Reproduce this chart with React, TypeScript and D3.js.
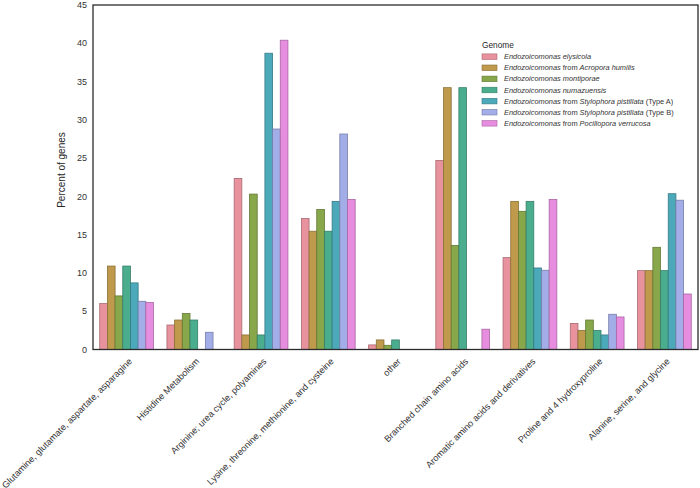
import React from "react";
import * as d3 from "d3";

const categories = [
  "Glutamine, glutamate, aspartate, asparagine",
  "Histidine Metabolism",
  "Arginine; urea cycle, polyamines",
  "Lysine, threonine, methionine, and cysteine",
  "other",
  "Branched chain amino acids",
  "Aromatic amino acids and derivatives",
  "Proline and 4 hydroxyproline",
  "Alanine, serine, and glycine",
];

const genomes = [
  "Endozoicomonas elysicola",
  "Endozoicomonas from Acropora humilis",
  "Endozoicomonas montiporae",
  "Endozoicomonas numazuensis",
  "Endozoicomonas from Stylophora pistillata (Type A)",
  "Endozoicomonas from Stylophora pistillata (Type B)",
  "Endozoicomonas from Pocillopora verrucosa",
];

const elysicola = [6.0, 3.2, 22.35, 17.1, 0.6, 24.7, 12.0, 3.4, 10.3];
const acroporaHumilis = [10.9, 3.85, 1.9, 15.45, 1.25, 34.2, 19.35, 2.5, 10.3];
const montiporae = [7.0, 4.7, 20.3, 18.3, 0.55, 13.6, 18.05, 3.85, 13.35];
const numazuensis = [10.9, 3.85, 1.9, 15.45, 1.25, 34.2, 19.35, 2.5, 10.3];
const stylophoraA = [8.7, 0, 38.7, 19.35, 0, 0, 10.65, 1.9, 20.35];
const stylophoraB = [6.3, 2.25, 28.8, 28.15, 0, 0, 10.35, 4.6, 19.5];
const pocillopora = [6.15, 0, 40.4, 19.6, 0, 2.65, 19.6, 4.25, 7.25];

const seriesValues = [
  elysicola,
  acroporaHumilis,
  montiporae,
  numazuensis,
  stylophoraA,
  stylophoraB,
  pocillopora,
];

const colors = [
  "#e8929e",
  "#c09a4c",
  "#88a74a",
  "#4aae8e",
  "#4ba9b9",
  "#a3aee9",
  "#e78de0",
];

const yTicks = [0, 5, 10, 15, 20, 25, 30, 35, 40, 45];

const W = 700;
const H = 488;
const left = 93;
const right = 698;
const top = 5;
const bottom = 349.5;
const font = "'Liberation Sans', Arial, Helvetica, sans-serif";

function legendParts(label: string) {
  const parts = label.split(/( from |\(Type [AB]\))/).filter((p) => p !== "");
  return parts.map((p) => ({
    text: p,
    italic: !(p === " from " || /^\(Type/.test(p)),
  }));
}

export default function App() {
  const x = d3
    .scaleBand<string>()
    .domain(categories)
    .range([left, right])
    .paddingInner(0.2)
    .paddingOuter(0.1);
  const xi = d3
    .scaleBand<number>()
    .domain(d3.range(genomes.length))
    .range([0, x.bandwidth()]);
  const y = d3.scaleLinear().domain([0, 45]).range([bottom, top]);

  const bars: React.ReactElement[] = [];
  seriesValues.forEach((vals, si) => {
    vals.forEach((v, ci) => {
      if (v <= 0) return;
      const bx = (x(categories[ci]) as number) + (xi(si) as number);
      const stroke = d3.color(colors[si])!.darker(0.9).formatHex();
      bars.push(
        <rect
          key={`${si}-${ci}`}
          x={bx}
          y={y(v)}
          width={xi.bandwidth()}
          height={y(0) - y(v)}
          fill={colors[si]}
          stroke={stroke}
          strokeWidth={0.8}
        />
      );
    });
  });

  const step = x.step();

  return (
    <svg
      width={W}
      height={H}
      style={{ position: "absolute", left: 0, top: 0, background: "#fff" }}
      fontFamily={font}
    >
      <rect x={0} y={0} width={W} height={H} fill="#fff" />
      {bars}
      <rect
        x={left}
        y={top}
        width={right - left}
        height={bottom - top}
        fill="none"
        stroke="#2b2b2b"
        strokeWidth={1.3}
      />
      {yTicks.map((t) => (
        <text
          key={t}
          x={87}
          y={y(t)}
          dy="0.35em"
          textAnchor="end"
          fontSize={9}
          fill="#333"
        >
          {t}
        </text>
      ))}
      <text
        transform={`translate(65,170) rotate(-90)`}
        textAnchor="middle"
        fontSize={10}
        fill="#262626"
      >
        Percent of genes
      </text>
      {categories.map((c) => {
        const cx = (x(c) as number) + x.bandwidth() / 2 + 6;
        return (
          <text
            key={c}
            transform={`translate(${cx},362) rotate(-45)`}
            textAnchor="end"
            fontSize={9.1}
            fill="#333"
          >
            {c}
          </text>
        );
      })}
      <g transform="translate(482,0)">
        <text x={0} y={48} fontSize={8.3} fill="#262626">
          Genome
        </text>
        {genomes.map((g, i) => {
          const cy = 56.7 + i * 11.1;
          return (
            <g key={g}>
              <rect
                x={0}
                y={cy - 2.8}
                width={15}
                height={5.6}
                fill={colors[i]}
                stroke={d3.color(colors[i])!.darker(0.9).formatHex()}
                strokeWidth={0.6}
              />
              <text x={22} y={cy} dy="0.35em" fontSize={7.4} fill="#333">
                {legendParts(g).map((p, k) => (
                  <tspan key={k} fontStyle={p.italic ? "italic" : "normal"}>
                    {p.text}
                  </tspan>
                ))}
              </text>
            </g>
          );
        })}
      </g>
      {step > 0 ? null : null}
    </svg>
  );
}
